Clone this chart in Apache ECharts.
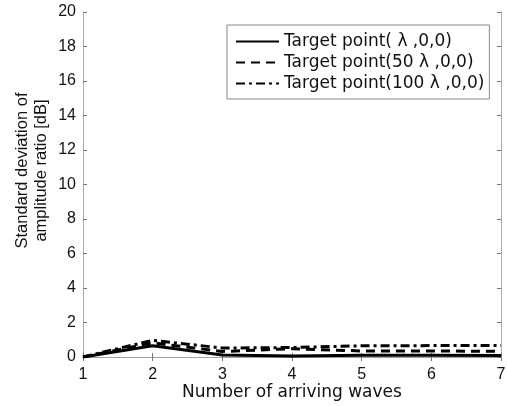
<!DOCTYPE html>
<html><head><meta charset="utf-8">
<script src="https://cdn.jsdelivr.net/npm/echarts@6/dist/echarts.min.js"></script>
<style>html,body{margin:0;padding:0;background:#fff}#c{width:507px;height:406px}</style>
</head><body><div id="c"></div>
<script>
const waves = [1, 2, 3, 4, 5, 6, 7];
const seriesNames = ['Target point( λ ,0,0)', 'Target point(50 λ ,0,0)', 'Target point(100 λ ,0,0)'];
const sd1 = [0, 0.65, 0.12, 0.06, 0.1, 0.1, 0.08];
const sd50 = [0, 0.82, 0.32, 0.48, 0.35, 0.35, 0.33];
const sd100 = [0, 0.97, 0.52, 0.55, 0.65, 0.66, 0.67];
const yTicks = [0, 2, 4, 6, 8, 10, 12, 14, 16, 18, 20];

const font = 'Liberation Sans, Arial, sans-serif';
const wide = 'DejaVu Sans, sans-serif';
const chart = echarts.init(document.getElementById('c'));
const frame = {show: true, lineStyle: {color: '#999', type: 'dotted', width: 1}};
const tick = {show: true, inside: true, length: 4, lineStyle: {color: '#777'}};
function pairs(arr){ return waves.map((w,i)=>[w, arr[i]]); }
const styles = [
  {type: 'solid'},
  {type: [9, 6]},
  {type: [9, 4, 3, 4]}
];
const data = [sd1, sd50, sd100];
chart.setOption({
  animation: false,
  textStyle: {fontFamily: font},
  grid: {left: 83, right: 6, top: 12, bottom: 49, outerBoundsMode: 'none', containLabel: false},
  legend: {
    orient: 'vertical', left: 227, top: 25,
    borderColor: '#888', borderWidth: 1, padding: [8, 5, 7, 8],
    itemWidth: 43, itemHeight: 10, itemGap: 4,
    itemStyle: {opacity: 0},
    textStyle: {fontSize: 17, color: '#111', fontFamily: wide},
    data: seriesNames
  },
  xAxis: [{
    type: 'value', min: 1, max: 7, interval: 1,
    name: 'Number of arriving waves', nameLocation: 'middle', nameGap: 27, nameMoveOverlap: false,
    nameTextStyle: {fontSize: 17, color: '#111', fontFamily: wide},
    axisLine: frame, axisTick: tick, splitLine: {show: false},
    axisLabel: {fontSize: 16, color: '#111', margin: 10}
  }, {
    type: 'value', min: 1, max: 7, interval: 1, position: 'top',
    axisLine: frame, axisTick: tick, splitLine: {show: false}, axisLabel: {show: false}
  }],
  yAxis: [{
    type: 'value', min: 0, max: 20, interval: 2,
    name: 'Standard deviation of\namplitude ratio [dB]', nameLocation: 'middle', nameGap: 32, nameMoveOverlap: false,
    nameTextStyle: {fontSize: 16.5, color: '#111', lineHeight: 19, padding: [0, 0, 0, 28]},
    axisLine: frame, axisTick: tick, splitLine: {show: false},
    axisLabel: {fontSize: 16, color: '#111', margin: 7, formatter: v => yTicks.includes(v) ? String(v) : ''}
  }, {
    type: 'value', min: 0, max: 20, interval: 2, position: 'right',
    axisLine: frame, axisTick: tick, splitLine: {show: false}, axisLabel: {show: false}
  }],
  series: data.map((d, i) => ({
    name: seriesNames[i], type: 'line', data: pairs(d),
    symbol: 'none', showSymbol: false,
    lineStyle: Object.assign({color: '#000', width: 3}, styles[i]),
    itemStyle: {color: '#000'}
  }))
});
</script></body></html>
